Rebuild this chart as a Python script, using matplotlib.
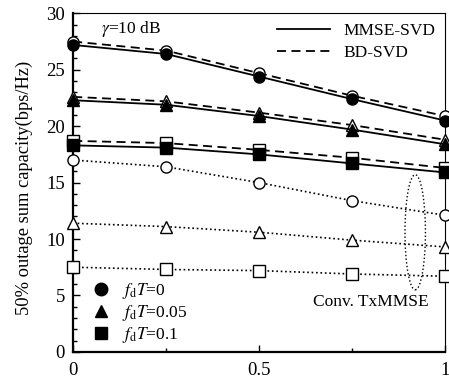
import matplotlib.pyplot as plt
from matplotlib.lines import Line2D
from matplotlib.patches import Ellipse
from matplotlib.ticker import MultipleLocator

plt.rcParams['font.family'] = ['Liberation Serif', 'DejaVu Serif']
plt.rcParams['mathtext.fontset'] = 'stix'

# x positions (normalized)
x = [0, 0.25, 0.5, 0.75, 1]

# MMSE-SVD (filled markers, solid)
mmse_fd0 = [27.2, 26.4, 24.4, 22.4, 20.5]
mmse_fd005 = [22.3, 21.9, 20.9, 19.7, 18.4]
mmse_fd01 = [18.3, 18.1, 17.5, 16.7, 15.9]

# BD-SVD (open markers, dashed)
bd_fd0 = [27.5, 26.7, 24.7, 22.7, 20.9]
bd_fd005 = [22.6, 22.2, 21.2, 20.1, 18.8]
bd_fd01 = [18.7, 18.5, 17.9, 17.2, 16.3]

# Conv. TxMMSE (open markers, dotted)
conv_fd0 = [17.0, 16.4, 15.0, 13.4, 12.1]
conv_fd005 = [11.4, 11.1, 10.6, 9.9, 9.3]
conv_fd01 = [7.5, 7.3, 7.2, 6.9, 6.7]

markers = ['o', '^', 's']
fd_labels = [r'$f_{\rm d}T$=0', r'$f_{\rm d}T$=0.05', r'$f_{\rm d}T$=0.1']

fig, ax = plt.subplots(figsize=(4.49, 3.82), dpi=100)
fig.subplots_adjust(left=0.163, right=0.991, top=0.965, bottom=0.079)

ms = 8
for ys, m in zip([conv_fd0, conv_fd005, conv_fd01], markers):
    ax.plot(x, ys, linestyle=':', color='black', lw=1.2, marker=m,
            markersize=ms, markerfacecolor='white', markeredgecolor='black',
            markeredgewidth=1.0, clip_on=False, zorder=3)
for ys, m in zip([bd_fd0, bd_fd005, bd_fd01], markers):
    ax.plot(x, ys, linestyle=(0, (5, 3)), color='black', lw=1.3, marker=m,
            markersize=ms, markerfacecolor='white', markeredgecolor='black',
            markeredgewidth=1.0, clip_on=False, zorder=3)
for ys, m in zip([mmse_fd0, mmse_fd005, mmse_fd01], markers):
    ax.plot(x, ys, linestyle='-', color='black', lw=1.3, marker=m,
            markersize=ms, markerfacecolor='black', markeredgecolor='black',
            clip_on=False, zorder=4)

ax.set_xlim(0, 1)
ax.set_ylim(0, 30)
ax.xaxis.set_minor_locator(MultipleLocator(0.25))
ax.yaxis.set_major_locator(MultipleLocator(5))
ax.yaxis.set_minor_locator(MultipleLocator(1))
ax.set_xticks([0, 0.5, 1])
ax.set_xticklabels(['0', '0.5', '1'])
ax.tick_params(which='both', direction='in', labelsize=13.5, top=False, right=False)
ax.tick_params(which='major', length=5, width=1)
ax.tick_params(which='minor', length=3, width=1)
ax.tick_params(axis='x', pad=7)
ax.tick_params(axis='y', pad=6)
for side in ['left', 'bottom']:
    ax.spines[side].set_linewidth(1.6)
for side in ['top', 'right']:
    ax.spines[side].set_linewidth(0.8)

ax.set_ylabel('50% outage sum capacity(bps/Hz)', fontsize=13.3)
ax.yaxis.set_label_coords(-0.108, 0.485)

ax.text(0.075, 28.6, r'$\gamma$=10 dB', fontsize=12.5, va='center', ha='left')

ell = Ellipse((0.92, 10.6), 0.055, 10.2, fill=False, linestyle=':', lw=1.0, edgecolor='black')
ax.add_patch(ell)
ax.text(0.80, 4.4, 'Conv. TxMMSE', fontsize=12.5, ha='center', va='center')

line_handles = [Line2D([], [], color='black', lw=1.3, linestyle='-'),
                Line2D([], [], color='black', lw=1.3, linestyle=(0, (5, 3)))]
leg1 = ax.legend(line_handles, ['MMSE-SVD', 'BD-SVD'], loc='upper right',
                 frameon=False, fontsize=12.5, handlelength=3.0,
                 borderaxespad=0.15, labelspacing=0.35, handletextpad=0.8)
ax.add_artist(leg1)

marker_handles = [Line2D([], [], color='black', marker=m, linestyle='none',
                         markersize=ms + 1) for m in markers]
ax.legend(marker_handles, fd_labels, loc='lower left', frameon=False,
          fontsize=12.5, handletextpad=0.2, borderaxespad=0.2, labelspacing=0.1,
          bbox_to_anchor=(0.0, -0.01))

fig.savefig('out.png', dpi=100)
